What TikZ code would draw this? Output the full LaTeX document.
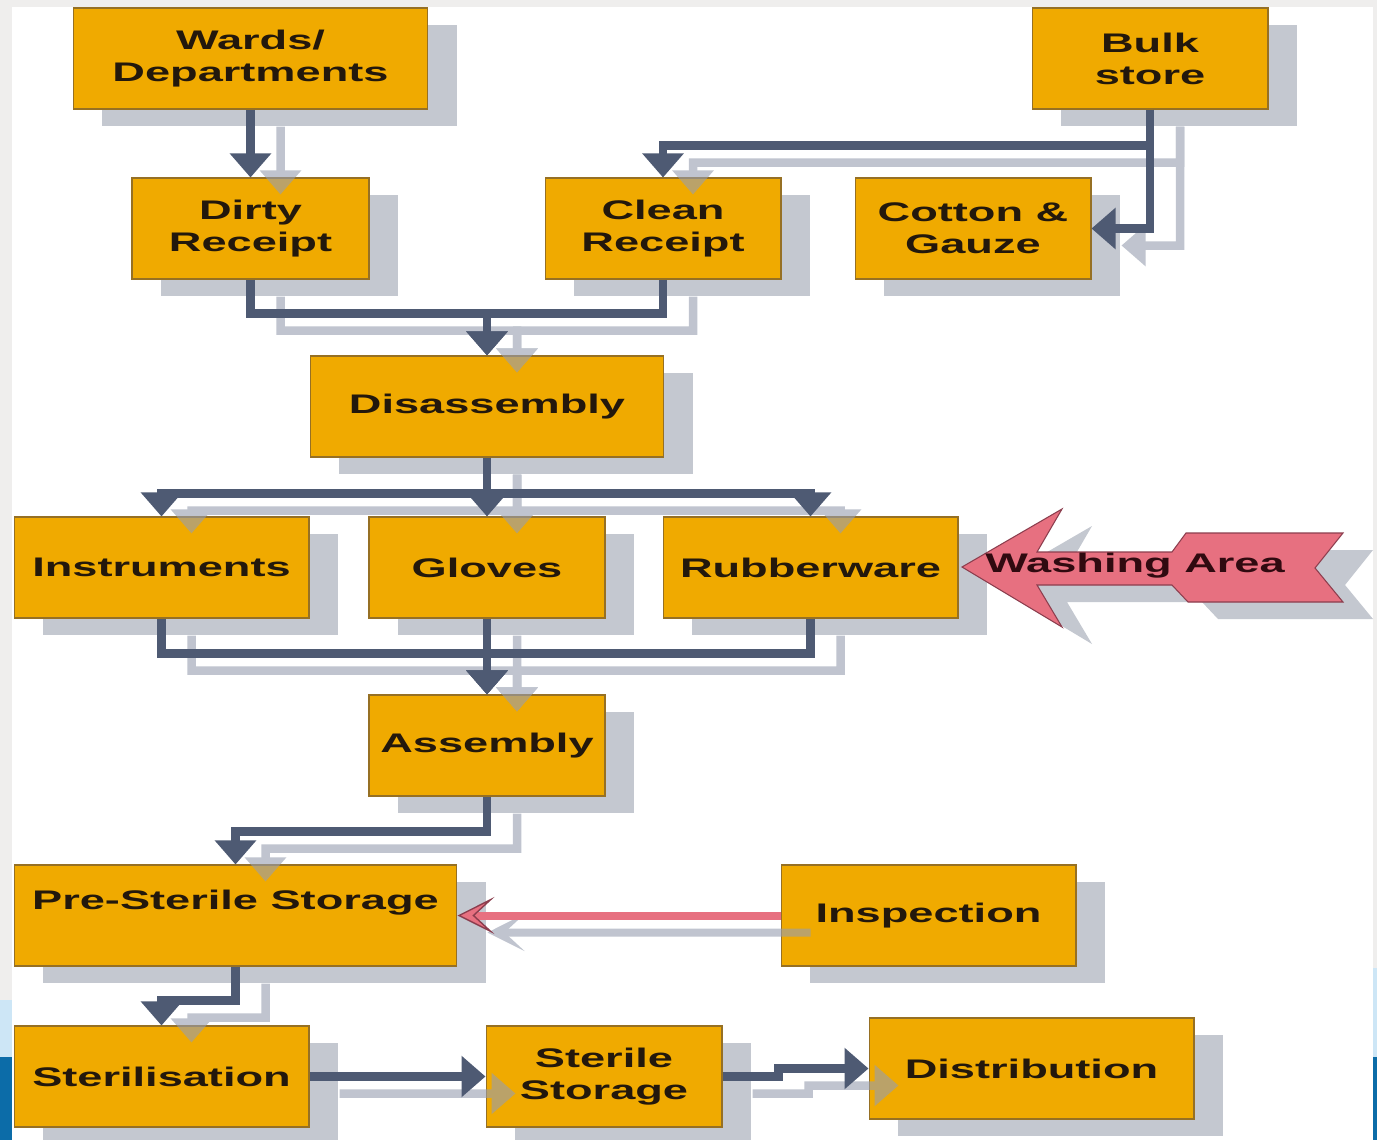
\documentclass[tikz,border=0pt]{standalone}
\usepackage{fontspec}
\newfontfamily\lblfont{Liberation Sans}[FakeStretch=1.68]
\usetikzlibrary{arrows.meta,shadows}
\definecolor{boxfill}{RGB}{240,170,0}
\definecolor{boxedge}{RGB}{150,112,36}
\definecolor{boxshadow}{RGB}{196,200,208}
\definecolor{conndark}{RGB}{78,90,115}
\definecolor{connshadow}{RGB}{150,158,175}
\definecolor{pinkc}{RGB}{231,112,128}
\definecolor{pinkdark}{RGB}{140,62,78}
\definecolor{labeltext}{RGB}{35,24,12}
\definecolor{washtextc}{RGB}{48,10,16}
\definecolor{bggrey}{RGB}{239,238,237}
\definecolor{lightblue}{RGB}{205,230,246}
\definecolor{darkblue}{RGB}{12,108,168}

\newcommand\flowlines[2]{%
  \draw[#1] (wards.south) -- (dirty.north);
  \draw[#1] (bulk.south) -- ++(0,36) -| (clean.north);
  \draw[#1] (bulk.south) |- (cotton.east);
  \draw[#1] (dirty.south) -- ++(0,34) -| (disasm.north);
  \draw[#1] (clean.south) -- ++(0,34) -| (disasm.north);
  \draw[#1] (disasm.south) -- ++(0,36) -| (instr.north);
  \draw[#1] (disasm.south) -- (gloves.north);
  \draw[#1] (disasm.south) -- ++(0,36) -| (rubber.north);
  \draw[#1] (instr.south) -- ++(0,35) -| (assembly.north);
  \draw[#1] (gloves.south) -- (assembly.north);
  \draw[#1] (rubber.south) -- ++(0,35) -| (assembly.north);
  \draw[#1] (assembly.south) -- ++(0,35) -| (prester.north);
  \draw[#1] (prester.south) -- ++(0,34) -| (sterilis.north);
  \draw[#1] (sterilis.east) -- (sterstor.west);
  \draw[#1] (sterstor.east) -- ++(56,0) |- (distrib.west);
  \draw[#2] (inspect.west) -- (prester.east);
}

\begin{document}
\begin{tikzpicture}[x=0.02cm,y=-0.02cm,
  box/.style={draw=boxedge, line width=0.6pt, fill=boxfill,
    minimum height=2.02cm, inner sep=0pt, align=center,
    font=\lblfont\bfseries\fontsize{15.3pt}{18.2pt}\selectfont, text=labeltext,
    drop shadow={shadow xshift=0.58cm, shadow yshift=-0.34cm, fill=boxshadow, opacity=1, draw=none}},
  bw/.style={minimum width=#1cm},
  darkline/.style={line width=0.17cm, draw=conndark, -{Triangle[width=0.8cm,length=0.48cm]}},
  pinkline/.style={line width=0.16cm, draw=pinkc, -{Stealth[length=0.74cm,width=0.74cm,inset=0.4cm,fill=pinkc,color=pinkdark,line width=0.8pt]}},
  shline/.style={line width=0.17cm, draw=connshadow, -{Triangle[width=0.8cm,length=0.48cm]}},
  shpink/.style={line width=0.16cm, draw=connshadow, -{Stealth[length=0.74cm,width=0.74cm,inset=0.4cm]}},
  washtext/.style={font=\lblfont\bfseries\fontsize{15.3pt}{18.2pt}\selectfont, text=washtextc, inner sep=0pt}
]
\useasboundingbox (0,0) rectangle (1377,1140);
% background
\fill[bggrey] (0,0) rectangle (1377,1140);
\fill[white] (12,7) rectangle (1373,1140);
\fill[lightblue] (0,1000) rectangle (12,1057);
\fill[darkblue] (0,1057) rectangle (12,1140);
\fill[lightblue] (1373,968) rectangle (1377,1057);
\fill[darkblue] (1373,1057) rectangle (1377,1140);

% boxes
\node[box, bw=7.10] (wards) at (250.5,58.5) {Wards/\\Departments};
\node[box, bw=4.72] (bulk) at (1150,58.5) {Bulk\\store};
\node[box, bw=4.74] (dirty) at (250.5,228.5) {Dirty\\Receipt};
\node[box, bw=4.72] (clean) at (663,228.5) {Clean\\Receipt};
\node[box, bw=4.72] (cotton) at (973,228.5) {Cotton \&\\Gauze};
\node[box, bw=7.08] (disasm) at (487,406.5) {Disassembly};
\node[box, bw=5.90] (instr) at (161.5,567.5) {Instruments};
\node[box, bw=4.72] (gloves) at (487,567.5) {Gloves};
\node[box, bw=5.90] (rubber) at (810.5,567.5) {Rubberware};
\node[box, bw=4.72] (assembly) at (487,745.5) {Assembly};
\node[box, bw=8.86] (prester) at (235.5,915.5) {Pre-Sterile Storage\\~};
\node[box, bw=5.90] (inspect) at (928.5,915.5) {Inspection};
\node[box, bw=5.90] (sterilis) at (161.5,1076.5) {Sterilisation};
\node[box, bw=4.72] (sterstor) at (604,1076.5) {Sterile\\Storage};
\node[box, bw=6.50] (distrib) at (1031.5,1068.5) {Distribution};

% washing area arrow
\fill[boxshadow, shift={(30,17)}] (962,567) -- (1062,509) -- (1037,552) -- (1172,552) -- (1186,533) -- (1343,533) -- (1315,568) -- (1343,602) -- (1188,602) -- (1172,585) -- (1037,585) -- (1062,627) -- cycle;
\filldraw[fill=pinkc, draw=pinkdark, line width=0.6pt] (962,567) -- (1062,509) -- (1037,552) -- (1172,552) -- (1186,533) -- (1343,533) -- (1315,568) -- (1343,602) -- (1188,602) -- (1172,585) -- (1037,585) -- (1062,627) -- cycle;
\node[washtext] (washing) at (1135,566) {Washing Area};

% connector shadows
\begin{scope}[transform canvas={shift={(30,17)}}]
  \begin{scope}[transparency group, opacity=0.6]
    \flowlines{shline}{shpink}
  \end{scope}
\end{scope}
% connectors
\flowlines{darkline}{pinkline}
\end{tikzpicture}
\end{document}
